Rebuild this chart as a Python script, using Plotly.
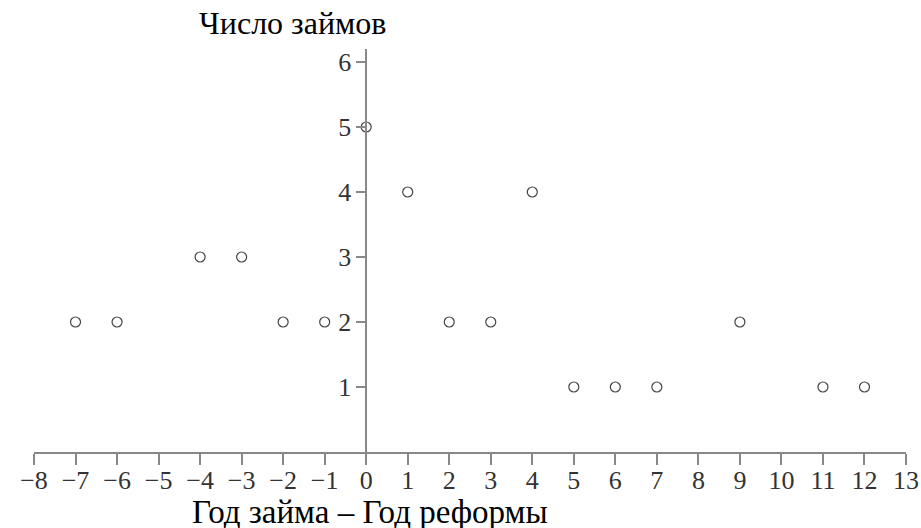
import plotly.graph_objects as go

years = [-7, -6, -4, -3, -2, -1, 0, 1, 2, 3, 4, 5, 6, 7, 9, 11, 12]
loans = [2, 2, 3, 3, 2, 2, 5, 4, 2, 2, 4, 1, 1, 1, 2, 1, 1]
x_ticks = list(range(-8, 14))
y_ticks = [1, 2, 3, 4, 5, 6]
y_title = "Число займов"
x_title = "Год займа – Год реформы"

serif = "Liberation Serif"
W, H = 921, 528
L, T = 34, 49
PR, PB = 906, 452
R, B = W - PR, H - PB
PW, PH = PR - L, PB - T

fig = go.Figure()
fig.add_trace(go.Scatter(
    x=years, y=loans, mode="markers",
    marker=dict(symbol="circle-open", size=10, color="#444444", line=dict(width=1.2)),
    showlegend=False, hoverinfo="x+y"))

fig.update_layout(
    width=W, height=H,
    margin=dict(l=L, r=R, t=T, b=B, autoexpand=False),
    plot_bgcolor="white", paper_bgcolor="white",
    font=dict(family=serif, color="#333333"),
    xaxis=dict(range=[-8, 13], tickvals=x_ticks, showgrid=False, zeroline=False,
               automargin=False, ticklabelstandoff=-7,
               showline=True, linecolor="#888888", linewidth=1.5,
               ticks="outside", ticklen=11, tickwidth=1.5, tickcolor="#888888",
               tickfont=dict(family=serif, size=26, color="#333333")),
    yaxis=dict(range=[0, 6.2], tickvals=y_ticks, showgrid=False, zeroline=False,
               automargin=False,
               anchor="free", position=8/21, side="left",
               showline=True, linecolor="#888888", linewidth=1.5,
               ticks="outside", ticklen=9, tickwidth=1.5, tickcolor="#888888",
               tickfont=dict(family=serif, size=26, color="#333333")),
    annotations=[
        dict(text=y_title, xref="paper", yref="paper", x=(197 - L) / PW, y=1.0,
             xanchor="left", yanchor="bottom", yshift=6, showarrow=False,
             font=dict(family=serif, size=32, color="black")),
        dict(text=x_title, xref="paper", yref="paper", x=(370 - L) / PW, y=-B / PH,
             xanchor="center", yanchor="bottom", yshift=-4, showarrow=False,
             font=dict(family=serif, size=33, color="black")),
    ],
)
fig.write_html("out.html", config={"displayModeBar": False},
               post_script="document.body.style.margin='0';")
